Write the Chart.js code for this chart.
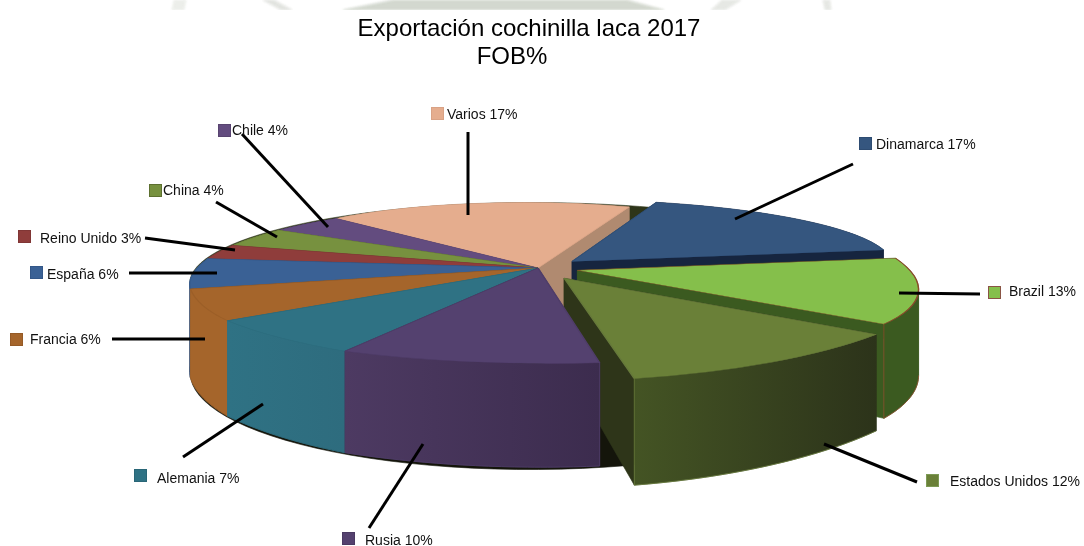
<!DOCTYPE html>
<html>
<head>
<meta charset="utf-8">
<style>
html,body{margin:0;padding:0;background:#fff}
#wrap{position:absolute;left:0;top:0;width:1084px;height:546px}
</style>
<script src="https://cdn.jsdelivr.net/npm/chart.js@4"></script>
</head>
<body>
<div id="wrap"><canvas id="c" width="1084" height="546"></canvas></div>
<script>
// Export share by destination, clockwise from the rear of the pie
const categories = ['Varios','Dinamarca','Brazil','Estados Unidos','Rusia','Alemania','Francia','España','Reino Unido','China','Chile'];
const shares = [17,17,13,12,10,7,6,6,3,4,4];
const titleLines = ['Exportación cochinilla laca 2017','FOB%'];

// Slice appearance
const topColors  = ['#e5ad8e','#35567f','#85bf4b','#6a8038','#54416f','#2f7284','#a5652b','#3a6195','#8f3d3b','#77913f','#634c7f'];
const wallLight  = ['#b08a70','#16253f','#3b5a20','#445424','#4d3a62','#2f7284','#a5652b','#2f4f7a','#743130','#5f7432','#4f3d66'];
const wallDark   = ['#b08a70','#16253f','#3b5a20','#2c331a','#3c2c4e','#2e6c7e','#a5652b','#2f4f7a','#743130','#5f7432','#4f3d66'];
const cutColors  = ['#b08a70','#16253f','#3b5a20','#2e3519','#3c2c4e','#2e6c7e','#8a5424','#2f4f7a','#743130','#5f7432','#4f3d66'];
const explode    = [0,0.135,0.12,0.15,0,0,0,0,0,0,0];
const edgeColors = ['#dda688','#31527a','#8a4a2a','#66793a','#4f3d69','#2c6b7c','#9c5f28','#365c8e','#873a38','#70893c','#5e4878'];
const swatchEdge = ['#d9a285','#2e4c72','#8a5445','#7d9a55','#4a3962','#296677','#955a26','#335788','#803635','#5d7030','#584470'];

// Camera for the tilted disc: centre, half-width, half-depth, sideways lean, perspective, thickness
const view = {cx:538, cy:268, a:337, b:77, lean:-0.012, persp:0.2, depth:83};

// Category label placement: swatch corner, text start, text middle
const labelX = [431,859,988,926,342,134,10,30,18,149,218];
const labelY = [107,137,286,474,532,469,333,266,230,184,124];
const textX  = [447,876,1009,950,365,157,30,47,40,163,232];
const textY  = [115,145,292,482,541,479,340,275,239,191,131];
// Leader lines between the labels and their slices
const leaderFrom = [[468,132],[853,164],[980,294],[917,482],[369,528],[183,457],[112,339],[129,273],[145,238],[216,202],[242,134]];
const leaderTo   = [[468,215],[735,219],[899,293],[824,444],[423,444],[263,404],[205,339],[217,273],[235,250],[277,237],[328,227]];

// Faded backdrop fragments along the top edge of the page
const backdropShapes = [
  [[174,0],[186,0],[184,10],[172,10]],
  [[263,0],[274,0],[292,10],[281,10]],
  [[393,0],[627,0],[664,10],[343,10]],
  [[722,0],[741,0],[725,10],[711,10]],
  [[823,0],[830,0],[831,10],[825,10]]
];
const backdropColors = ['#eceeea','#e2e4e0','#d3d8cf','#e6e8e4','#e6e8e4'];

function weight(u, v){ return 1 - view.persp * v - view.lean * u; }
function project(u, v){
  const w = weight(u, v);
  return {x: view.cx + view.a * u / w, y: view.cy + view.b * v / w};
}

// Affine map taking the flat slice of the chart onto its projected corners
function sliceMap(arc, i){
  const a0 = arc.startAngle, a1 = arc.endAngle, mid = (a0 + a1) / 2;
  const ou = Math.cos(mid) * explode[i], ov = Math.sin(mid) * explode[i];
  const q0 = project(ou, ov);
  const q1 = project(ou + Math.cos(a0), ov + Math.sin(a0));
  const q2 = project(ou + Math.cos(a1), ov + Math.sin(a1));
  const c0 = Math.cos(a0), s0 = Math.sin(a0), c1 = Math.cos(a1), s1 = Math.sin(a1);
  const det = c0 * s1 - c1 * s0;
  const dx1 = q1.x - q0.x, dy1 = q1.y - q0.y, dx2 = q2.x - q0.x, dy2 = q2.y - q0.y;
  const ma = (dx1 * s1 - dx2 * s0) / det, mc = (dx2 * c0 - dx1 * c1) / det;
  const mb = (dy1 * s1 - dy2 * s0) / det, md = (dy2 * c0 - dy1 * c1) / det;
  return {
    ma, mb, mc, md, ou, ov, q0, q1, q2,
    rim: t => ({x: q0.x + ma * Math.cos(t) + mc * Math.sin(t), y: q0.y + mb * Math.cos(t) + md * Math.sin(t)}),
    drop: t => view.depth / weight(ou + Math.cos(t), ov + Math.sin(t))
  };
}

function polygon(ctx, pts, fill){
  ctx.beginPath();
  pts.forEach((p, k) => k ? ctx.lineTo(p.x, p.y) : ctx.moveTo(p.x, p.y));
  ctx.closePath();
  ctx.fillStyle = fill;
  ctx.fill();
  ctx.strokeStyle = fill;
  ctx.lineWidth = 0.6;
  ctx.stroke();
}

function polyline(ctx, pts, color){
  ctx.beginPath();
  pts.forEach((p, k) => k ? ctx.lineTo(p.x, p.y) : ctx.moveTo(p.x, p.y));
  ctx.strokeStyle = color;
  ctx.lineWidth = 0.8;
  ctx.stroke();
}

const solidPie = {
  id: 'solidPie',
  beforeDraw(chart){
    const ctx = chart.ctx;
    ctx.save();
    ctx.beginPath();
    ctx.rect(0, 0, 1084, 10);
    ctx.clip();
    ctx.filter = 'blur(1px)';
    backdropShapes.forEach((shape, i) => {
      polygon(ctx, shape.map(p => ({x: p[0], y: p[1]})), backdropColors[i]);
    });
    ctx.restore();
  },
  beforeDatasetsDraw(chart){
    const ctx = chart.ctx;
    const arcs = chart.getDatasetMeta(0).data;

    // Dark underside seen through the gaps of the pulled-out slices
    const under = [], top = [];
    for (let k = 0; k <= 120; k++){
      const t = k / 120 * Math.PI * 2, u = Math.cos(t), v = Math.sin(t);
      const p = project(u, v);
      top.push(p);
      under.push({x: p.x + 0.5, y: p.y + view.depth / weight(u, v) + 1.5});
    }
    polygon(ctx, under, '#14150b');
    polygon(ctx, top.map(p => ({x: p.x, y: p.y - 1.2})), '#2e3519');

    const order = arcs.map((arc, i) => i).sort((p, q) =>
      Math.sin((arcs[p].startAngle + arcs[p].endAngle) / 2) - Math.sin((arcs[q].startAngle + arcs[q].endAngle) / 2));

    order.forEach(i => {
      const arc = arcs[i], m = sliceMap(arc, i);
      const d0 = view.depth / weight(m.ou, m.ov);
      const a0 = arc.startAngle, a1 = arc.endAngle, mid = (a0 + a1) / 2;
      const e0 = m.drop(a0), e1 = m.drop(a1);

      // Cut faces
      polygon(ctx, [m.q0, m.q1, {x: m.q1.x, y: m.q1.y + e0}, {x: m.q0.x, y: m.q0.y + d0}], cutColors[i]);
      polygon(ctx, [m.q0, m.q2, {x: m.q2.x, y: m.q2.y + e1}, {x: m.q0.x, y: m.q0.y + d0}], cutColors[i]);

      // Outer curved face, split wherever the rim turns back horizontally
      const upper = [], lower = [];
      for (let k = 0; k <= 40; k++){
        const t = a0 + (a1 - a0) * k / 40, p = m.rim(t);
        upper.push(p);
        lower.push({x: p.x, y: p.y + m.drop(t)});
      }
      const xs = upper.map(p => p.x);
      const grad = ctx.createLinearGradient(Math.min(...xs), 0, Math.max(...xs), 0);
      grad.addColorStop(0, wallLight[i]);
      grad.addColorStop(1, wallDark[i]);
      const breaks = [0];
      for (let k = 1; k < 40; k++){
        if ((xs[k] - xs[k - 1]) * (xs[k + 1] - xs[k]) < 0) breaks.push(k);
      }
      breaks.push(40);
      for (let b = 0; b + 1 < breaks.length; b++){
        const from = breaks[b], to = breaks[b + 1] + 1;
        polygon(ctx, upper.slice(from, to).concat(lower.slice(from, to).reverse()), grad);
      }

      // Only the edges facing the viewer get a visible line
      if (Math.sin(mid) > 0){
        if (Math.cos(mid) > 0){
          polyline(ctx, lower.slice(breaks[breaks.length - 2]), edgeColors[i]);
          polyline(ctx, [upper[40], lower[40]], edgeColors[i]);
        } else {
          polyline(ctx, lower.slice(0, breaks[1] + 1), edgeColors[i]);
          polyline(ctx, [upper[0], lower[0]], edgeColors[i]);
        }
      }

      // Upper face: the chart's own arc element under the slice's mapping
      ctx.save();
      const R = 1 / arc.outerRadius;
      const A = m.ma * R, B = m.mb * R, C = m.mc * R, D = m.md * R;
      ctx.setTransform(A, B, C, D, m.q0.x - A * arc.x - C * arc.y, m.q0.y - B * arc.x - D * arc.y);
      arc.draw(ctx);
      ctx.restore();
    });
    return false;
  },
  afterDraw(chart){
    const ctx = chart.ctx;
    ctx.save();
    // Leader lines
    ctx.strokeStyle = '#000';
    ctx.lineWidth = 3;
    leaderFrom.forEach((from, i) => {
      ctx.beginPath();
      ctx.moveTo(from[0], from[1]);
      ctx.lineTo(leaderTo[i][0], leaderTo[i][1]);
      ctx.stroke();
    });
    // Swatches and category labels
    ctx.font = '14px "Liberation Sans"';
    ctx.textBaseline = 'middle';
    ctx.textAlign = 'left';
    categories.forEach((name, i) => {
      ctx.fillStyle = topColors[i];
      ctx.fillRect(labelX[i], labelY[i], 13, 13);
      ctx.strokeStyle = swatchEdge[i];
      ctx.lineWidth = 1;
      ctx.strokeRect(labelX[i] + 0.5, labelY[i] + 0.5, 12, 12);
      ctx.fillStyle = '#111';
      ctx.fillText(name + ' ' + shares[i] + '%', textX[i], textY[i]);
    });
    ctx.restore();
  }
};

new Chart(document.getElementById('c'), {
  type: 'pie',
  data: {
    labels: categories,
    datasets: [{
      data: shares,
      backgroundColor: topColors,
      borderColor: edgeColors,
      borderWidth: 1
    }]
  },
  options: {
    responsive: false,
    animation: false,
    rotation: -43,
    events: [],
    layout: {padding: 0},
    plugins: {
      legend: {display: false},
      tooltip: {enabled: false},
      title: {
        display: true,
        text: [titleLines[0] + '\u2003\u200a', titleLines[1] + '\u2003\u2003\u2002'],
        color: '#000',
        font: {family: '"Liberation Sans"', size: 24, weight: 'normal', lineHeight: 1.17},
        padding: {top: 15, bottom: 0},
        align: 'center'
      }
    }
  },
  plugins: [solidPie]
});
</script>
</body>
</html>
